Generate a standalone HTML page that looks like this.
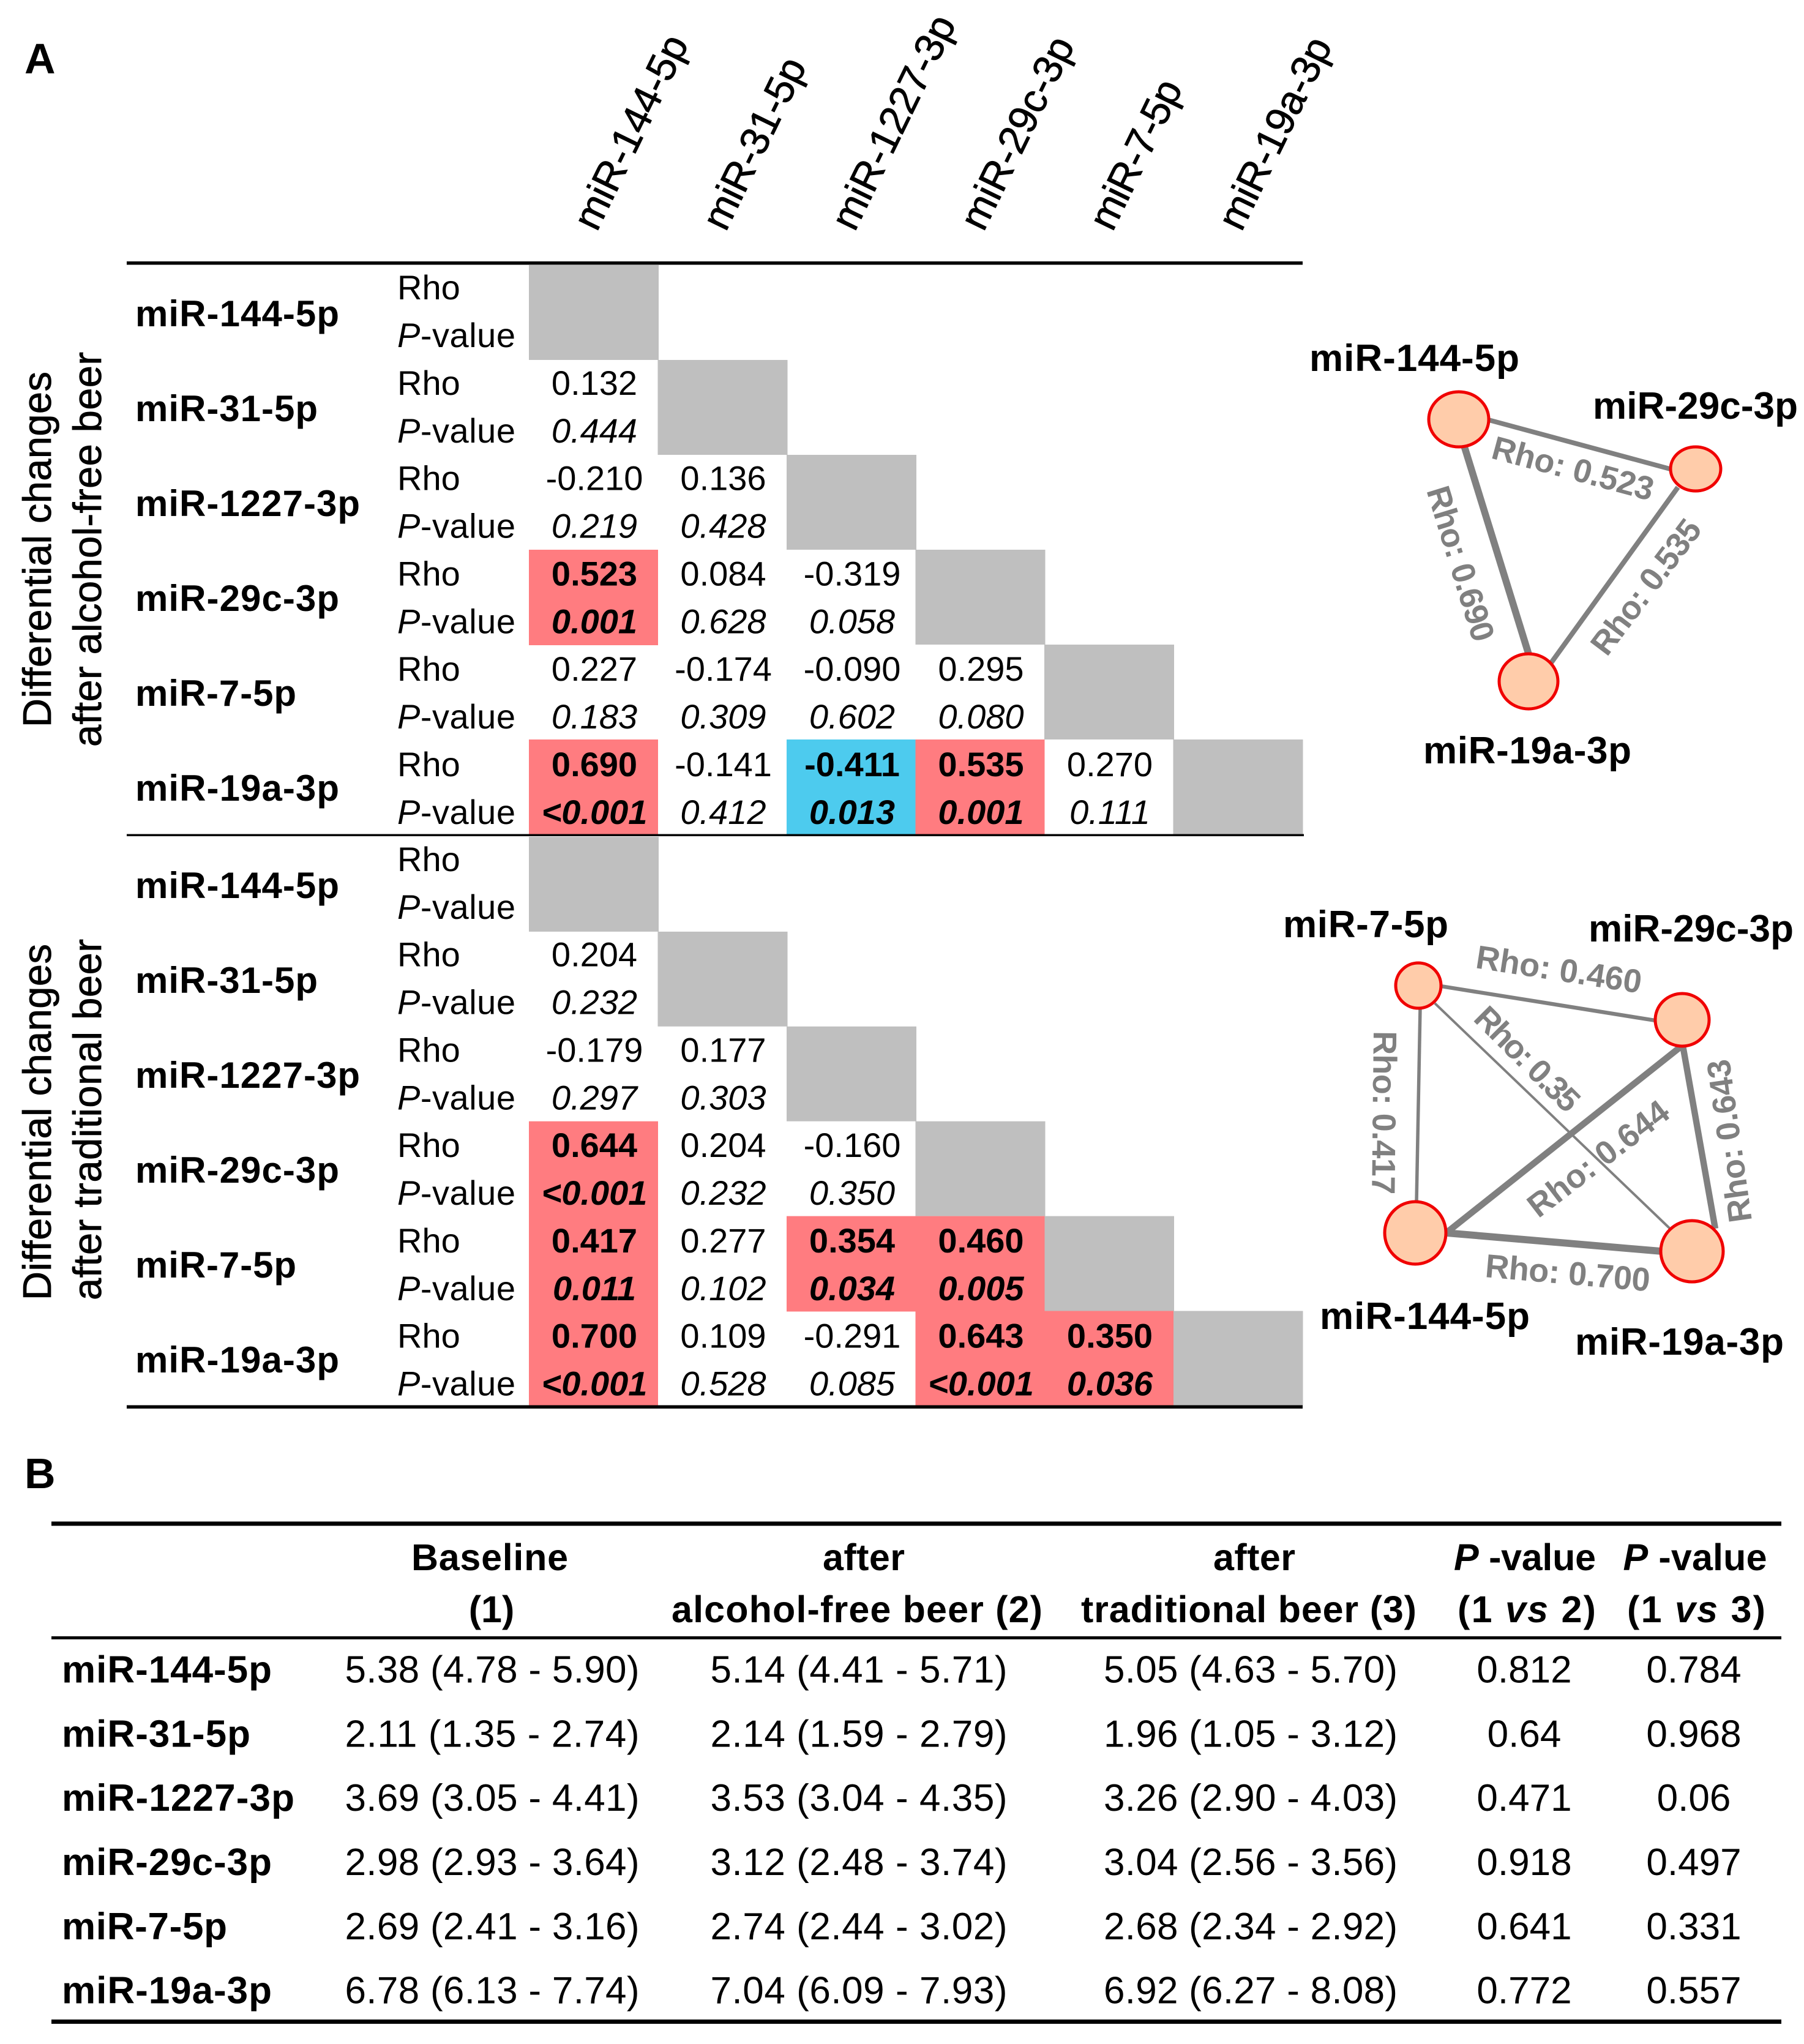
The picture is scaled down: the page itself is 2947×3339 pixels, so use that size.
<!DOCTYPE html>
<html lang="en">
<head>
<meta charset="utf-8">
<title>miRNA correlation matrices and networks</title>
<style>
html,body{margin:0;padding:0;background:#fff}
svg{display:block;font-family:"Liberation Sans",Arial,sans-serif}
text{fill:#000}
.edge{stroke:#808080;stroke-linecap:butt}
.elabel{fill:#808080;font-size:54px;font-weight:bold}
.node{fill:#FFCCAA;stroke:#F00000;stroke-width:5}
.nlabel{font-size:62px;font-weight:bold}
.vlabel{font-size:65px;stroke:#000;stroke-width:0.8}
.hdr{font-size:61px;font-weight:bold;text-anchor:middle}
.panel{font-size:70px;font-weight:bold}
</style>
</head>
<body>
<svg id="fig" xmlns="http://www.w3.org/2000/svg" width="2947" height="3339" viewBox="0 0 2947 3339">
  <rect x="0" y="0" width="2947" height="3339" fill="#fff"/>
  <text class="panel" x="40" y="120">A</text>
  <text class="panel" x="40" y="2431">B</text>

  <text class="vlabel" transform="translate(83,1188) rotate(-90)" textLength="581">Differential changes</text>
  <text class="vlabel" transform="translate(165,1220) rotate(-90)" textLength="645">after alcohol-free beer</text>
  <text class="vlabel" transform="translate(83,2124) rotate(-90)" textLength="582">Differential changes</text>
  <text class="vlabel" transform="translate(165,2124) rotate(-90)" textLength="590">after traditional beer</text>

  <g id="matrix"></g>

  <rect x="207" y="427" width="1921" height="5.5" fill="#000"/>
  <rect x="207" y="1362.5" width="1923" height="3.5" fill="#000"/>
  <rect x="207" y="2295.5" width="1921" height="5.5" fill="#000"/>

  <!-- Network: alcohol-free beer -->
  <g>
    <line class="edge" data-m="af" data-r="3" data-c="0" x1="2432" y1="686" x2="2728" y2="766"/>
    <line class="edge" data-m="af" data-r="5" data-c="0" x1="2392" y1="729" x2="2497" y2="1068"/>
    <line class="edge" data-m="af" data-r="5" data-c="3" x1="2741" y1="796" x2="2533" y2="1084"/>
    <ellipse class="node" cx="2383" cy="685" rx="49" ry="45"/>
    <ellipse class="node" cx="2770" cy="766" rx="41" ry="36"/>
    <ellipse class="node" cx="2497" cy="1113" rx="48" ry="45"/>
    <text class="nlabel" x="2139" y="606" textLength="343">miR-144-5p</text>
    <text class="nlabel" x="2602" y="684" textLength="335">miR-29c-3p</text>
    <text class="nlabel" x="2325" y="1247" textLength="340">miR-19a-3p</text>
    <text class="elabel" data-m="af" data-r="3" data-c="0" data-d="3" transform="translate(2434,748) rotate(15)" textLength="271">Rho: 0.523</text>
    <text class="elabel" data-m="af" data-r="5" data-c="0" data-d="3" transform="translate(2330,801) rotate(72.9)" textLength="262">Rho: 0.690</text>
    <text class="elabel" data-m="af" data-r="5" data-c="3" data-d="3" transform="translate(2625,1074) rotate(-53)" textLength="261">Rho: 0.535</text>
  </g>

  <!-- Network: traditional beer -->
  <g>
    <line class="edge" data-m="tr" data-r="4" data-c="3" x1="2354" y1="1611" x2="2704" y2="1667"/>
    <line class="edge" data-m="tr" data-r="5" data-c="4" x1="2344" y1="1639" x2="2728" y2="2007"/>
    <line class="edge" data-m="tr" data-r="4" data-c="0" x1="2320" y1="1646" x2="2314" y2="1964"/>
    <line class="edge" data-m="tr" data-r="3" data-c="0" x1="2748" y1="1708" x2="2365" y2="2012"/>
    <line class="edge" data-m="tr" data-r="5" data-c="3" x1="2749" y1="1708" x2="2802" y2="2007"/>
    <line class="edge" data-m="tr" data-r="5" data-c="0" x1="2362" y1="2014" x2="2714" y2="2044"/>
    <ellipse class="node" cx="2317" cy="1610" rx="37" ry="37"/>
    <ellipse class="node" cx="2748" cy="1666" rx="44" ry="43"/>
    <ellipse class="node" cx="2312" cy="2014" rx="50" ry="51"/>
    <ellipse class="node" cx="2764" cy="2044" rx="51" ry="50"/>
    <text class="nlabel" x="2096" y="1531" textLength="270">miR-7-5p</text>
    <text class="nlabel" x="2595" y="1538" textLength="335">miR-29c-3p</text>
    <text class="nlabel" x="2156" y="2171" textLength="343">miR-144-5p</text>
    <text class="nlabel" x="2573" y="2213" textLength="341">miR-19a-3p</text>
    <text class="elabel" data-m="tr" data-r="4" data-c="3" data-d="3" transform="translate(2409,1581) rotate(8.8)" textLength="273">Rho: 0.460</text>
    <text class="elabel" data-m="tr" data-r="5" data-c="4" data-d="2" transform="translate(2405,1666) rotate(45)" textLength="218">Rho: 0.35</text>
    <text class="elabel" data-m="tr" data-r="4" data-c="0" data-d="3" transform="translate(2244,1684) rotate(90.6)" textLength="267">Rho: 0.417</text>
    <text class="elabel" data-m="tr" data-r="3" data-c="0" data-d="3" transform="translate(2513,1991) rotate(-37.5)" textLength="275">Rho: 0.644</text>
    <text class="elabel" data-m="tr" data-r="5" data-c="3" data-d="3" transform="translate(2862,1994) rotate(-98)" textLength="268">Rho: 0.643</text>
    <text class="elabel" data-m="tr" data-r="5" data-c="0" data-d="3" transform="translate(2425,2086) rotate(5)" textLength="270">Rho: 0.700</text>
  </g>

  <!-- Table B -->
  <g>
    <rect x="84" y="2485.5" width="2826" height="7" fill="#000"/>
    <rect x="84" y="2673" width="2826" height="5" fill="#000"/>
    <rect x="84" y="3299" width="2826" height="7" fill="#000"/>
    <text class="hdr" x="800" y="2565" textLength="256">Baseline</text>
    <text class="hdr" x="803" y="2650">(1)</text>
    <text class="hdr" x="1411" y="2565" textLength="134">after</text>
    <text class="hdr" x="1400" y="2650" textLength="606">alcohol-free beer (2)</text>
    <text class="hdr" x="2049" y="2565" textLength="134">after</text>
    <text class="hdr" x="2040" y="2650" textLength="548">traditional beer (3)</text>
    <text class="hdr" x="2491" y="2565" textLength="232"><tspan font-style="italic">P</tspan> -value</text>
    <text class="hdr" x="2494" y="2650" textLength="226">(1 <tspan font-style="italic">vs</tspan> 2)</text>
    <text class="hdr" x="2769" y="2565" textLength="235"><tspan font-style="italic">P</tspan> -value</text>
    <text class="hdr" x="2771" y="2650" textLength="226">(1 <tspan font-style="italic">vs</tspan> 3)</text>
    <g id="tableRows"></g>
  </g>
</svg>
<script>
// ---- Correlation data (lower-triangular matrices) ----
const mirnas = ['miR-144-5p','miR-31-5p','miR-1227-3p','miR-29c-3p','miR-7-5p','miR-19a-3p'];
const rhoAlcoholFree = [[],[0.132],[-0.210,0.136],[0.523,0.084,-0.319],[0.227,-0.174,-0.090,0.295],[0.690,-0.141,-0.411,0.535,0.270]];
const pAlcoholFree = [[],['0.444'],['0.219','0.428'],['0.001','0.628','0.058'],['0.183','0.309','0.602','0.080'],['<0.001','0.412','0.013','0.001','0.111']];
const rhoTraditional = [[],[0.204],[-0.179,0.177],[0.644,0.204,-0.160],[0.417,0.277,0.354,0.460],[0.700,0.109,-0.291,0.643,0.350]];
const pTraditional = [[],['0.232'],['0.297','0.303'],['<0.001','0.232','0.350'],['0.011','0.102','0.034','0.005'],['<0.001','0.528','0.085','<0.001','0.036']];
// ---- Table B data ----
const baselineValues = ['5.38 (4.78 - 5.90)','2.11 (1.35 - 2.74)','3.69 (3.05 - 4.41)','2.98 (2.93 - 3.64)','2.69 (2.41 - 3.16)','6.78 (6.13 - 7.74)'];
const alcoholFreeValues = ['5.14 (4.41 - 5.71)','2.14 (1.59 - 2.79)','3.53 (3.04 - 4.35)','3.12 (2.48 - 3.74)','2.74 (2.44 - 3.02)','7.04 (6.09 - 7.93)'];
const traditionalValues = ['5.05 (4.63 - 5.70)','1.96 (1.05 - 3.12)','3.26 (2.90 - 4.03)','3.04 (2.56 - 3.56)','2.68 (2.34 - 2.92)','6.92 (6.27 - 8.08)'];
const p1vs2 = ['0.812','0.64','0.471','0.918','0.641','0.772'];
const p1vs3 = ['0.784','0.968','0.06','0.497','0.331','0.557'];

const NS = 'http://www.w3.org/2000/svg';
const matrixGroup = document.getElementById('matrix');
const tableGroup = document.getElementById('tableRows');

function make(tag, parent, x, y, content) {
  const el = document.createElementNS(NS, tag);
  if (x !== undefined) el.setAttribute('x', x);
  if (y !== undefined) el.setAttribute('y', y);
  if (content !== undefined) el.textContent = content;
  parent.appendChild(el);
  return el;
}
// Axis functions
const colLeft = j => 864 + j * 210.5;
const colCenter = j => colLeft(j) + 107;
const rowTop = (panel, i) => panel === 0 ? 433 + 155 * i : 1367 + 154.9 * i;
const rhoBase = (panel, i) => panel === 0 ? 489 + 155.8 * i : 1423 + 155.7 * i;
const labelBase = (panel, i) => panel === 0 ? 533 + 155 * i : 1467 + 155 * i;
const pNumber = s => parseFloat(s.replace('<', '')) - (s[0] === '<' ? 0.0005 : 0);
const cellColor = (rho, p) => pNumber(p) < 0.05 ? (rho > 0 ? '#FF7C80' : '#4DCBEE') : null;

const labelWidths = [333, 298, 367, 333, 263, 333];
const headerWidths = [344, 303, 380, 341, 263, 340];

// Rotated column headers
mirnas.forEach(function (name, j) {
  const t = make('text', matrixGroup, undefined, undefined, name);
  t.setAttribute('transform', 'translate(' + (975 + j * 210.6) + ',380) rotate(-64)');
  t.setAttribute('font-size', '66');
  t.setAttribute('stroke', '#000');
  t.setAttribute('stroke-width', '0.8');
  t.setAttribute('textLength', headerWidths[j]);
  
  
});

function drawPanel(panel, rhos, ps) {
  mirnas.forEach(function (name, i) {
    const h = rowTop(panel, i + 1) - rowTop(panel, i);
    // diagonal cell
    const d = make('rect', matrixGroup, colLeft(i), rowTop(panel, i));
    d.setAttribute('width', 212);
    d.setAttribute('height', h);
    d.setAttribute('fill', '#BFBFBF');
    
    
    // row label
    const lab = make('text', matrixGroup, 221, labelBase(panel, i), name);
    lab.setAttribute('font-size', '60');
    lab.setAttribute('font-weight', 'bold');
    lab.setAttribute('textLength', labelWidths[i]);
    
    
    // Rho / P-value stub
    const r = make('text', matrixGroup, 649, rhoBase(panel, i), 'Rho');
    r.setAttribute('font-size', '56');
    
    
    const pv = make('text', matrixGroup, 649, rhoBase(panel, i) + 78);
    pv.setAttribute('font-size', '56');
    pv.setAttribute('textLength', '193');
    
    
    const ts = document.createElementNS(NS, 'tspan');
    ts.setAttribute('font-style', 'italic');
    ts.textContent = 'P';
    pv.appendChild(ts);
    pv.appendChild(document.createTextNode('-value'));
    // cells
    rhos[i].forEach(function (rho, j) {
      const color = cellColor(rho, ps[i][j]);
      if (color) {
        const c = make('rect', matrixGroup, colLeft(j), rowTop(panel, i));
        c.setAttribute('width', 211);
        c.setAttribute('height', h + 1);
        c.setAttribute('fill', color);
        
        
      }
      const bold = color ? 'bold' : 'normal';
      const tr = make('text', matrixGroup, colCenter(j), rhoBase(panel, i), rho.toFixed(3));
      tr.setAttribute('font-size', '56');
      tr.setAttribute('font-weight', bold);
      tr.setAttribute('text-anchor', 'middle');
      
      
      const tp = make('text', matrixGroup, colCenter(j), rhoBase(panel, i) + 78, ps[i][j]);
      tp.setAttribute('font-size', '56');
      tp.setAttribute('font-weight', bold);
      tp.setAttribute('font-style', 'italic');
      tp.setAttribute('text-anchor', 'middle');
      
      
    });
  });
}
drawPanel(0, rhoAlcoholFree, pAlcoholFree);
drawPanel(1, rhoTraditional, pTraditional);

// Network edges: width and labels come from the matrices
const edgeWidth = rho => 4 + (Math.abs(rho) - 0.35) * 22;
const matrixFor = key => key === 'af' ? rhoAlcoholFree : rhoTraditional;
document.querySelectorAll('line.edge').forEach(function (ln) {
  const v = matrixFor(ln.getAttribute('data-m'))[+ln.getAttribute('data-r')][+ln.getAttribute('data-c')];
  ln.setAttribute('stroke-width', edgeWidth(v).toFixed(1));
});
document.querySelectorAll('text.elabel').forEach(function (t) {
  const v = matrixFor(t.getAttribute('data-m'))[+t.getAttribute('data-r')][+t.getAttribute('data-c')];
  t.textContent = 'Rho: ' + v.toFixed(+t.getAttribute('data-d'));
});

// Table B rows
const tableLabelWidths = [343, 308, 380, 343, 270, 343];
const tableRowBase = i => 2748.6 + 104.8 * i;
mirnas.forEach(function (name, i) {
  const y = tableRowBase(i);
  const l = make('text', tableGroup, 101, y, name);
  l.setAttribute('font-size', '62');
  l.setAttribute('font-weight', 'bold');
  l.setAttribute('textLength', tableLabelWidths[i]);
  
  
  const a = make('text', tableGroup, 804, y, baselineValues[i]);
  a.setAttribute('font-size', '62');
  a.setAttribute('text-anchor', 'middle');
  a.setAttribute('textLength', '481');
  
  
  const b = make('text', tableGroup, 1403, y, alcoholFreeValues[i]);
  b.setAttribute('font-size', '62');
  b.setAttribute('text-anchor', 'middle');
  b.setAttribute('textLength', '485');
  
  
  const c = make('text', tableGroup, 2043, y, traditionalValues[i]);
  c.setAttribute('font-size', '62');
  c.setAttribute('text-anchor', 'middle');
  c.setAttribute('textLength', '480');
  
  
  const d = make('text', tableGroup, 2490, y, p1vs2[i]);
  d.setAttribute('font-size', '62');
  d.setAttribute('text-anchor', 'middle');
  
  
  const e = make('text', tableGroup, 2767, y, p1vs3[i]);
  e.setAttribute('font-size', '62');
  e.setAttribute('text-anchor', 'middle');
  
  
});
</script>
</body>
</html>
